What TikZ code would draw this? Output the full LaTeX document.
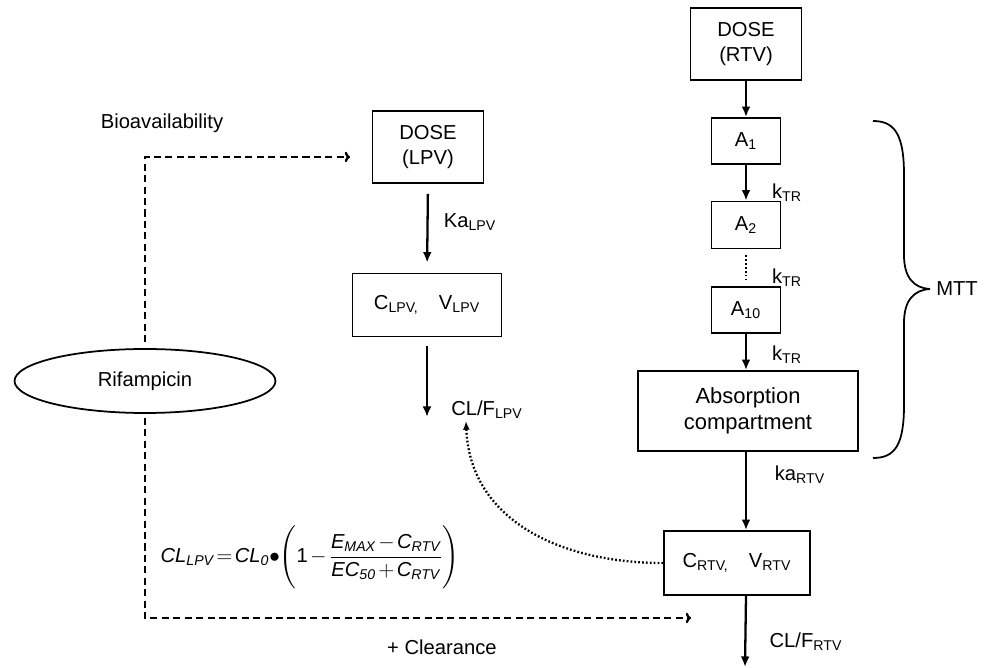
\documentclass[tikz,border=0pt]{standalone}
\usepackage{amsmath}
\usepackage{fontspec}
\setmainfont{Liberation Sans}
\usetikzlibrary{arrows.meta,shapes.geometric}
\newcommand{\lo}[1]{$_{\text{#1}}$}
\newcommand{\iv}[1]{\textit{#1}}
\tikzset{
	cbox/.style={draw, line width=1pt, align=center, inner sep=0pt},
	flow/.style={line width=1.3pt, -{Latex[length=6pt,width=5pt]}},
	effect/.style={line width=1.3pt, dash pattern=on 4pt off 2.5pt, -{To[length=3pt,width=6pt]}},
	fine/.style={line width=1.3pt, dash pattern=on 1pt off 1.2pt}
}

\begin{document}
\begin{tikzpicture}[x=0.02cm, y=-0.02cm, font=\fontsize{11.5}{14}\selectfont]
		%%%%% START %%%%%
		\useasboundingbox (0,0) rectangle (984,668);
		
		\node[cbox, minimum width=2.22cm, minimum height=1.44cm] (doseRTV) at (746,44) {DOSE\\(RTV)};
		\node[cbox, minimum width=1.38cm, minimum height=0.92cm] (aOne) at (746,141) {A\lo{1}};
		\node[cbox, minimum width=1.38cm, minimum height=0.94cm] (aTwo) at (746,225) {A\lo{2}};
		\node[cbox, minimum width=1.38cm, minimum height=0.92cm] (aTen) at (746,310) {A\lo{10}};
		\node[cbox, minimum width=4.4cm, minimum height=1.6cm, font=\fontsize{12.5}{15}\selectfont] (absorb) at (748,411) {Absorption\\compartment};
		\node[cbox, minimum width=2.92cm, minimum height=1.28cm] (cRTV) at (737,563) {C\lo{RTV,}\quad V\lo{RTV}};
		
		\node (kTRone) at (787,193) {k\lo{TR}};
		\node (kTRtwo) at (787,278) {k\lo{TR}};
		\node (kTRten) at (787,355) {k\lo{TR}};
		\node (kaRTV) at (800,475) {ka\lo{RTV}};
		\node (clfRTV) at (806,642) {CL/F\lo{RTV}};
		\coordinate (rtvOut) at (745,667);
		
		\draw[flow] (doseRTV.south -| aOne) -- (aOne.north);
		\draw[flow] (aOne) -- (aTwo);
		\draw[fine, shorten <=0.12cm, shorten >=0.1cm] (aTwo) -- (aTen);
		\draw[flow] (aTen) -- (aTen |- absorb.north);
		\draw[flow] (aTen |- absorb.south) -- (aTen |- cRTV.north);
		\draw[flow] (aTen |- cRTV.south) -- (rtvOut);
		
		\draw[line width=1pt] (873,121) .. controls (895,121) and (904,135) .. (904,175) -- (904,255) .. controls (904,278) and (914,288) .. (930,289) .. controls (914,290) and (904,300) .. (904,323) -- (904,405) .. controls (904,445) and (895,458) .. (873,458);
		\node (mtt) at (957,289) {MTT};
		
		\node[cbox, minimum width=2.22cm, minimum height=1.44cm] (doseLPV) at (428,147) {DOSE\\(LPV)};
		\node[cbox, minimum width=2.98cm, minimum height=1.26cm] (cLPV) at (427,305) {C\lo{LPV,}\quad V\lo{LPV}};
		\node (kaLPV) at (470,222) {Ka\lo{LPV}};
		\node (clfLPV) at (487,410) {CL/F\lo{LPV}};
		\coordinate (lpvOut) at (427,417);
		\coordinate (lpvHit) at (466,421);
		
		\draw[flow, shorten <=0.2cm, shorten >=0.2cm] (doseLPV.south) -- (cLPV.north);
		\draw[flow, shorten <=0.18cm] (cLPV.south) -- (lpvOut);
		\draw[fine, -{Latex[length=5pt,width=4pt]}] (cRTV.west) .. controls (560,563) and (470,520) .. (lpvHit);
		
		\node[draw, ellipse, line width=1pt, minimum width=5.22cm, minimum height=1.28cm, inner sep=0pt] (rif) at (145,381) {Rifampicin};
		\node (bioLbl) at (162,123) {Bioavailability};
		\node (clrLbl) at (442,647) {+ Clearance};
		\coordinate (bioEnd) at (350,157);
		\coordinate (clrEnd) at (691,618);
		
		\draw[effect, shorten <=0.12cm] (rif.north) |- (bioEnd);
		\draw[effect, shorten <=0.08cm] (rif.south) |- (clrEnd);
		
		\node (eqn) at (310,557) {\thickmuskip=2mu\medmuskip=2mu$\iv{CL}_{\iv{LPV}} = \iv{CL}_{\iv{0}}{\bullet}\Biggl(\text{1}- \dfrac{\iv{E}_{\iv{MAX}} - \iv{C}_{\iv{RTV}}}{\iv{EC}_{\iv{50}} + \iv{C}_{\iv{RTV}}}\Biggr)$};
		
		%%%%% END %%%%%
	\end{tikzpicture}
\end{document}
